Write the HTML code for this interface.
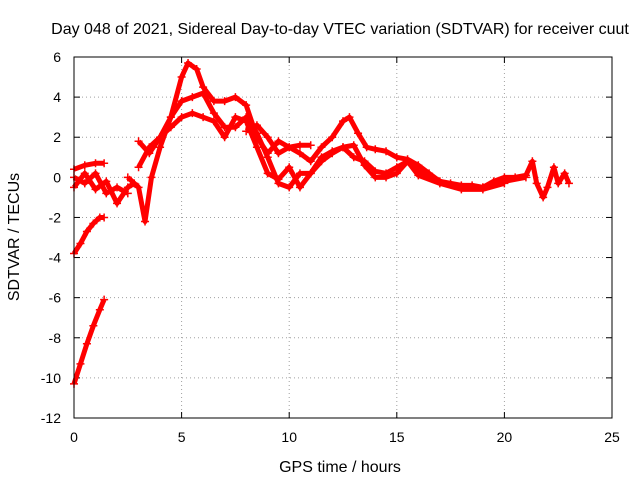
<!DOCTYPE html>
<html><head><meta charset="utf-8"><style>
body{margin:0;background:#fff}
svg text{font-family:"Liberation Sans",sans-serif;font-size:14px;fill:#000}
svg text.big{font-size:16px}
</style></head><body>
<svg id="chart" width="640" height="480" viewBox="0 0 640 480" xmlns="http://www.w3.org/2000/svg">
<rect width="640" height="480" fill="#fff"/>
<text class="big" x="340" y="34" text-anchor="middle">Day 048 of 2021, Sidereal Day-to-day VTEC variation (SDTVAR) for receiver cuut</text>
<text class="big" x="340" y="472" text-anchor="middle">GPS time / hours</text>
<text class="big" transform="translate(19,237) rotate(-90)" text-anchor="middle">SDTVAR / TECUs</text>
<g id="grid"></g><g id="axes"></g><g id="series"></g>
<rect x="74" y="57" width="538" height="361" fill="none" stroke="#000"/>
</svg>
<script>
const xTicks=[0,5,10,15,20,25];
const yTicks=[-12,-10,-8,-6,-4,-2,0,2,4,6];
const s1=[[0,-10.3],[0.3,-9.3],[0.6,-8.3],[0.9,-7.4],[1.2,-6.6],[1.4,-6.1]];
const s2=[[0,-3.8],[0.3,-3.3],[0.6,-2.7],[0.9,-2.3],[1.2,-2.0],[1.4,-2.0]];
const s3=[[0,0.4],[0.5,0.6],[1,0.7],[1.4,0.7]];
const s4=[[0,-0.5],[0.5,0.2],[1,-0.6],[1.5,-0.2],[2,-1.3],[2.5,-0.5],[2.8,-0.3]];
const s5=[[0,0],[0.5,-0.3],[1,0.2],[1.5,-0.8],[2,-0.5],[2.5,-0.8]];
const trackA=[[2.5,0],[3,-0.5],[3.3,-2.2],[3.6,0],[4,1.5],[4.5,3],[5,5],[5.3,5.7],[5.7,5.4],[6,4.5],[6.5,3.8],[7,3.8],[7.5,4],[8,3.6],[8.5,2],[9,1.2],[9.5,1.8],[10,1.5],[10.5,1.2],[11,0.8],[11.5,1.5],[12,2],[12.5,2.8],[12.8,3],[13.2,2.2],[13.6,1.5],[14,1.4],[14.5,1.3],[15,1],[15.5,0.9],[16,0.6],[16.5,0.2],[17,-0.2],[17.5,-0.3],[18,-0.4],[18.5,-0.4],[19,-0.5],[19.5,-0.2],[20,0],[20.5,0],[21,0.1],[21.3,0.8],[21.5,-0.3],[21.8,-1],[22,-0.5],[22.3,0.5],[22.5,-0.3],[22.8,0.2],[23,-0.3]];
const trackB=[[3,1.8],[3.5,1.2],[4,2],[4.5,3],[5,3.8],[5.5,4],[6,4.2],[6.5,3.2],[7,2.5],[7.5,2.5],[8,3],[8.5,2.2],[9,1],[9.5,-0.3],[10,-0.5],[10.5,0.2],[11,0.2],[11.5,0.8],[12,1.2],[12.5,1.5],[13,1],[13.5,0.8],[14,0.3],[14.5,0.2],[15,0.5],[15.5,0.8],[16,0.3],[17,-0.2],[18,-0.5],[19,-0.5],[20,-0.2],[21,0]];
const trackC=[[3,0.5],[3.5,1.5],[4,2],[4.5,2.5],[5,3],[5.5,3.2],[6,3],[6.5,2.8],[7,2],[7.5,3],[8,2.8],[8.5,1.5],[9,0.2],[9.5,-0.1],[10,0.5],[10.5,-0.5],[11,0.2],[11.5,1],[12,1.3],[12.5,1.5],[13,1.6],[13.5,0.6],[14,0],[14.5,0],[15,0.2],[15.5,0.8],[16,0.1],[17,-0.3],[18,-0.6],[19,-0.6],[20,-0.3]];
const trackD=[[8,2.3],[8.5,2.6],[9,2],[9.5,1.2],[10,1.5],[10.5,1.6],[11,1.6]];
const allSeries=[s1,s2,s3,s4,s5,trackA,trackB,trackC,trackD];
const NS="http://www.w3.org/2000/svg";
const X=v=>74+v*(538/25), Y=v=>418-(v+12)*(361/18);
function mk(t,a,p){const e=document.createElementNS(NS,t);for(const k in a)e.setAttribute(k,a[k]);p.appendChild(e);return e;}
const grid=document.getElementById('grid'),axes=document.getElementById('axes'),ser=document.getElementById('series');
xTicks.forEach(v=>{
 if(v>0&&v<25){const l=mk('line',{x1:X(v),x2:X(v),y1:57,y2:418,stroke:'#a0a0a0','stroke-dasharray':'1,3'},grid);
 
 }
 mk('line',{x1:X(v),x2:X(v),y1:418,y2:412,stroke:'#000'},axes);
 mk('line',{x1:X(v),x2:X(v),y1:57,y2:63,stroke:'#000'},axes);
 const t=mk('text',{x:X(v),y:442,'text-anchor':'middle'},axes);t.textContent=v;
 
 
});
yTicks.forEach(v=>{
 if(v>-12&&v<6){const l=mk('line',{x1:74,x2:612,y1:Y(v),y2:Y(v),stroke:'#a0a0a0','stroke-dasharray':'1,3'},grid);
 
 }
 mk('line',{x1:74,x2:80,y1:Y(v),y2:Y(v),stroke:'#000'},axes);
 mk('line',{x1:612,x2:606,y1:Y(v),y2:Y(v),stroke:'#000'},axes);
 const t=mk('text',{x:61,y:Y(v)+5,'text-anchor':'end'},axes);t.textContent=v;
 
 
});
allSeries.forEach(s=>{
 const g=mk('g',{},ser);
 
 
 mk('polyline',{points:s.map(p=>X(p[0])+','+Y(p[1])).join(' '),fill:'none',stroke:'#f00','stroke-width':5,'stroke-linejoin':'round'},g);
 s.forEach(p=>{
  const m=mk('path',{d:`M${X(p[0])-4},${Y(p[1])}h8M${X(p[0])},${Y(p[1])-4}v8`,stroke:'#f00','stroke-width':1.5},g);
  
  
 });
});
</script>
</body></html>
